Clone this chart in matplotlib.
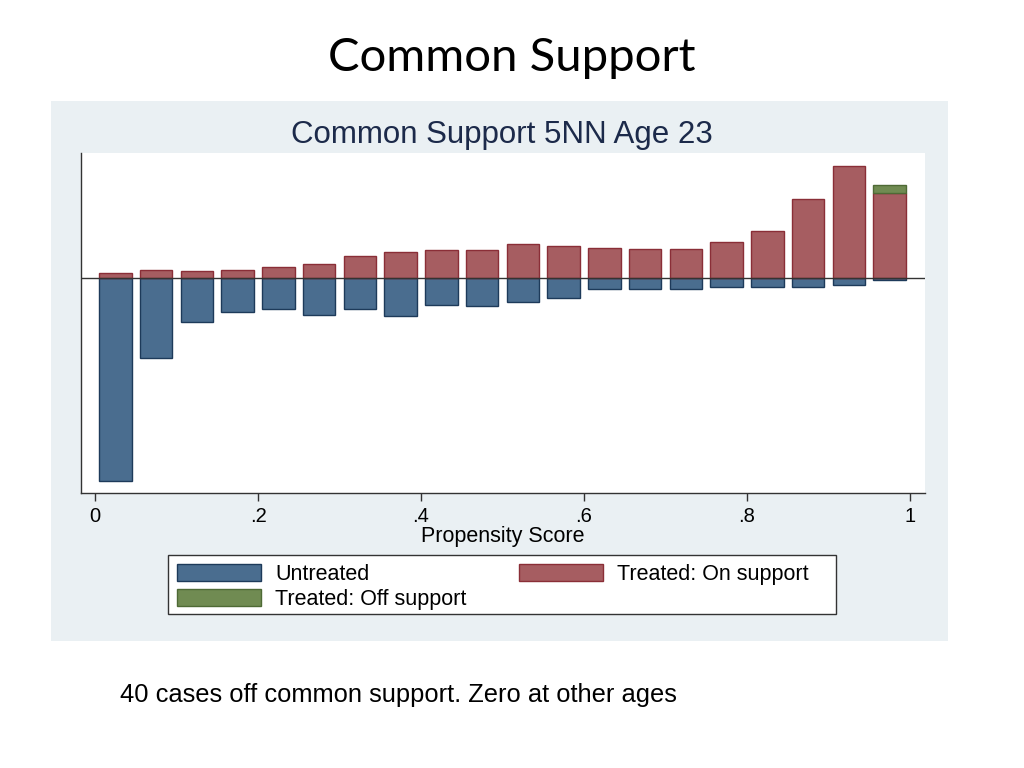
import matplotlib.pyplot as plt
from matplotlib.patches import Rectangle
import numpy as np

# propensity score bins (width .05) and bar heights (arbitrary density units)
bin_centers = np.arange(0.025, 1.0, 0.05)
untreated = [203, 80, 44, 34, 31, 37, 31, 38, 27, 28,
             24, 20, 11, 11, 11, 9, 9, 9, 7, 2]
treated_on = [5, 8, 7, 8, 11, 14, 22, 26, 28, 28,
              34, 32, 30, 29, 29, 36, 47, 79, 112, 85]
treated_off = [0, 0, 0, 0, 0, 0, 0, 0, 0, 0,
               0, 0, 0, 0, 0, 0, 0, 0, 0, 8]
xticks = [0, 0.2, 0.4, 0.6, 0.8, 1.0]
xtick_labels = ["0", ".2", ".4", ".6", ".8", "1"]

blue, blue_edge = "#4a6d8f", "#1d3a5a"
red, red_edge = "#a65d61", "#8a2e37"
green, green_edge = "#708b52", "#4e6a35"

W, H = 1024, 768
plt.rcParams["font.family"] = ["Liberation Sans", "DejaVu Sans"]
fig = plt.figure(figsize=(W / 100, H / 100), dpi=100)

# grey Stata graph region
fig.patches.append(Rectangle((51 / W, 1 - 641 / H), 897 / W, 540 / H,
                             transform=fig.transFigure, facecolor="#eaf0f3",
                             edgecolor="none", zorder=-5))
# legend box
fig.patches.append(Rectangle((168 / W, 1 - 614 / H), 668 / W, 59 / H,
                             transform=fig.transFigure, facecolor="white",
                             edgecolor="#333333", linewidth=1, zorder=-4))

fig.text(512 / W, 1 - 58 / H, "Common Support", ha="center", va="center",
         fontsize=34, family=["Lato", "DejaVu Sans"], color="black")
fig.text(502 / W, 1 - 135 / H, "Common Support 5NN Age 23", ha="center",
         va="center", fontsize=22.5, color="#1c2a4a")
fig.text(120 / W, 1 - 695 / H, "40 cases off common support. Zero at other ages",
         ha="left", va="center", fontsize=18.4, color="black")

ax = fig.add_axes([81 / W, 1 - 493 / H, 844 / W, 340 / H])
ax.set_facecolor("white")

ax.bar(bin_centers, [-u for u in untreated], width=0.04, color=blue,
       edgecolor=blue_edge, linewidth=1, label="Untreated")
ax.bar(bin_centers, treated_on, width=0.04, color=red,
       edgecolor=red_edge, linewidth=1, label="Treated: On support")
off = [i for i, v in enumerate(treated_off) if v > 0]
ax.bar(bin_centers[off], [treated_off[i] for i in off],
       bottom=[treated_on[i] for i in off], width=0.04, color=green,
       edgecolor=green_edge, linewidth=1, label="Treated: Off support")
ax.axhline(0, color="#333333", linewidth=1)

ax.set_xlim(-14 / 815, 1 + 15 / 815)
ax.set_ylim(-215.3, 124.7)
ax.set_xticks(xticks)
ax.set_xticklabels(xtick_labels, fontsize=14.5)
ax.tick_params(axis="x", length=6, width=1, color="#333333", pad=4)
ax.set_yticks([])
ax.set_xlabel("Propensity Score", fontsize=15.5, labelpad=0)
for s in ["top", "right"]:
    ax.spines[s].set_visible(False)
for s in ["left", "bottom"]:
    ax.spines[s].set_color("#333333")
    ax.spines[s].set_linewidth(1)

h, l = ax.get_legend_handles_labels()
order = [0, 2, 1]
leg = fig.legend([h[i] for i in order], [l[i] for i in order], ncol=2,
                 loc="upper left", bbox_to_anchor=(177 / W, 1 - 563.5 / H),
                 fontsize=15.5, frameon=False, handlelength=3.9,
                 handleheight=0.85, borderaxespad=0, labelspacing=0.22,
                 handletextpad=0.65, borderpad=0, columnspacing=2.45)

fig.savefig("out.png", dpi=100, facecolor="white")
